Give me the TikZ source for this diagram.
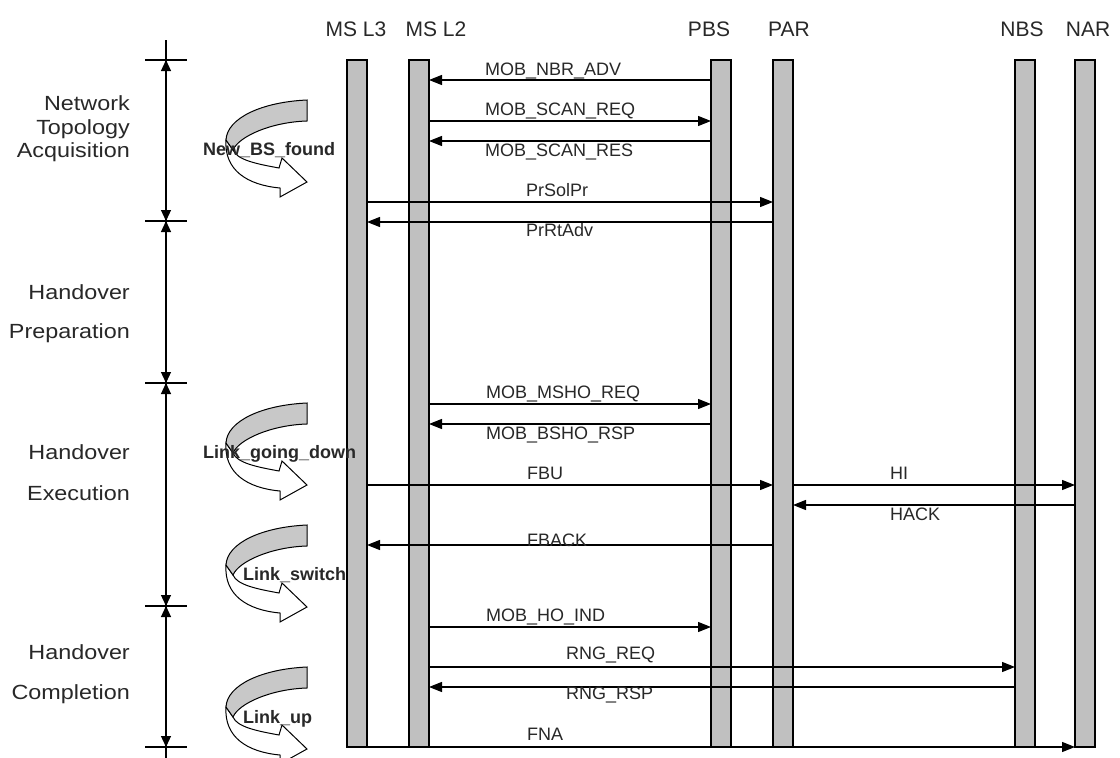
\documentclass[tikz,border=0pt]{standalone}
\usepackage{fontspec}
\setmainfont{Liberation Sans}
\newfontfamily\phasefont[FakeStretch=1.14]{Liberation Sans}
\usetikzlibrary{arrows.meta}
\definecolor{barfill}{RGB}{192,192,192}
\definecolor{ribbon}{RGB}{200,200,200}
\definecolor{txt}{RGB}{40,40,40}
\begin{document}
\begin{tikzpicture}[x=1pt,y=-1pt,
  life/.style={draw, line width=1.2pt, fill=barfill, minimum width=20pt, minimum height=687pt, inner sep=0pt, outer sep=0pt},
  msg/.style={line width=1.2pt, -{Triangle[length=13pt,width=10pt]}},
  mlabel/.style={anchor=base west, inner sep=0pt, font=\fontsize{18}{21}\selectfont, text=txt},
  head/.style={anchor=base, inner sep=0pt, font=\fontsize{21}{25}\selectfont, text=txt},
  phase/.style={anchor=base east, inner sep=0pt, font=\phasefont\fontsize{20.5}{24}\selectfont, text=txt},
  phasearrow/.style={line width=1.2pt, {Triangle[length=11pt,width=10pt]}-{Triangle[length=11pt,width=10pt]}},
  tickline/.style={line width=1.2pt},
  evtext/.style={anchor=base west, inner sep=0pt, font=\bfseries\fontsize{18}{21}\selectfont, text=txt},
  hoicon/.pic={
    \draw[line width=1pt, fill=white] (-81,40) .. controls (-83,70) and (-60,85) .. (-27,88)
      -- (-27,97) -- (0,82) -- (-25,58) -- (-28,68) .. controls (-50,64) and (-70,60) .. (-74,50) -- cycle;
    \draw[line width=1pt, fill=ribbon] (0,0) .. controls (-45,2) and (-80,18) .. (-81,40)
      -- (-74,50) .. controls (-68,36) and (-35,22) .. (0,21) -- cycle;
  }
]
\clip (0,0) rectangle (1120,758);
\fill[white] (0,0) rectangle (1120,758);

% headers
\node[head] (hms3) at (356,36) {MS L3};
\node[head] (hms2) at (436,36) {MS L2};
\node[head] (hpbs) at (709,36) {PBS};
\node[head] (hpar) at (789,36) {PAR};
\node[head] (hnbs) at (1022,36) {NBS};
\node[head] (hnar) at (1088,36) {NAR};

% lifelines
\node[life] (ms3) at (357,403.5) {};
\node[life] (ms2) at (419,403.5) {};
\node[life] (pbs) at (721,403.5) {};
\node[life] (par) at (783,403.5) {};
\node[life] (nbs) at (1025,403.5) {};
\node[life] (nar) at (1085,403.5) {};

% message rows
\coordinate (y1) at (0,80);
\coordinate (y2) at (0,121);
\coordinate (y3) at (0,141);
\coordinate (y4) at (0,202);
\coordinate (y5) at (0,222);
\coordinate (y6) at (0,404);
\coordinate (y7) at (0,424);
\coordinate (y8) at (0,485);
\coordinate (y9) at (0,505);
\coordinate (y10) at (0,545);
\coordinate (y11) at (0,627);
\coordinate (y12) at (0,667);
\coordinate (y13) at (0,687);
\coordinate (y14) at (0,747);

\draw[msg] (pbs.west |- y1) -- (ms2.east |- y1);
\draw[msg] (ms2.east |- y2) -- (pbs.west |- y2);
\draw[msg] (pbs.west |- y3) -- (ms2.east |- y3);
\draw[msg] (ms3.east |- y4) -- (par.west |- y4);
\draw[msg] (par.west |- y5) -- (ms3.east |- y5);
\draw[msg] (ms2.east |- y6) -- (pbs.west |- y6);
\draw[msg] (pbs.west |- y7) -- (ms2.east |- y7);
\draw[msg] (ms3.east |- y8) -- (par.west |- y8);
\draw[msg] (par.east |- y8) -- (nar.west |- y8);
\draw[msg] (nar.west |- y9) -- (par.east |- y9);
\draw[msg] (par.west |- y10) -- (ms3.east |- y10);
\draw[msg] (ms2.east |- y11) -- (pbs.west |- y11);
\draw[msg] (ms2.east |- y12) -- (nbs.west |- y12);
\draw[msg] (nbs.west |- y13) -- (ms2.east |- y13);
\draw[msg] (ms3.east |- y14) -- (nar.west |- y14);

% message labels
\node[mlabel] (l1) at (485,75) {MOB\_NBR\_ADV};
\node[mlabel] (l2) at (485,115) {MOB\_SCAN\_REQ};
\node[mlabel] (l3) at (485,156) {MOB\_SCAN\_RES};
\node[mlabel] (l4) at (526,196) {PrSolPr};
\node[mlabel] (l5) at (526,236) {PrRtAdv};
\node[mlabel] (l6) at (486,398) {MOB\_MSHO\_REQ};
\node[mlabel] (l7) at (486,439) {MOB\_BSHO\_RSP};
\node[mlabel] (l8) at (527,479) {FBU};
\node[mlabel] (l9) at (890,479) {HI};
\node[mlabel] (l10) at (890,520) {HACK};
\node[mlabel] (l11) at (527,546) {FBACK};
\node[mlabel] (l12) at (486,621) {MOB\_HO\_IND};
\node[mlabel] (l13) at (566,659) {RNG\_REQ};
\node[mlabel] (l14) at (566,699) {RNG\_RSP};
\node[mlabel] (l15) at (527,740) {FNA};

% phase bracket
\coordinate (t0) at (166,60);
\coordinate (t1) at (166,221);
\coordinate (t2) at (166,383);
\coordinate (t3) at (166,606);
\coordinate (t4) at (166,747);
\coordinate (ttop) at (166,40);
\coordinate (tbot) at (166,758);
\draw[tickline] (ttop) -- (tbot);
\foreach \t in {t0,t1,t2,t3,t4} \draw[tickline] ([xshift=-21pt]\t) -- ([xshift=21pt]\t);
\draw[phasearrow] (t0) -- (t1);
\draw[phasearrow] (t1) -- (t2);
\draw[phasearrow] (t2) -- (t3);
\draw[phasearrow] (t3) -- (t4);

% phase labels
\node[phase] (p1a) at (130,110.5) {Network};
\node[phase] (p1b) at (130,134) {Topology};
\node[phase] (p1c) at (130,157) {Acquisition};
\node[phase] (p2a) at (130,299) {Handover};
\node[phase] (p2b) at (130,338) {Preparation};
\node[phase] (p3a) at (130,459) {Handover};
\node[phase] (p3b) at (130,500) {Execution};
\node[phase] (p4a) at (130,659) {Handover};
\node[phase] (p4b) at (130,699) {Completion};

% event icons
\pic at (307,100) {hoicon};
\pic at (307,403) {hoicon};
\pic at (307,525) {hoicon};
\pic at (307,667) {hoicon};
\node[evtext] (e1) at (203,155) {New\_BS\_found};
\node[evtext] (e2) at (203,458) {Link\_going\_down};
\node[evtext] (e3) at (243,580) {Link\_switch};
\node[evtext] (e4) at (243,723) {Link\_up};
\end{tikzpicture}
\end{document}
